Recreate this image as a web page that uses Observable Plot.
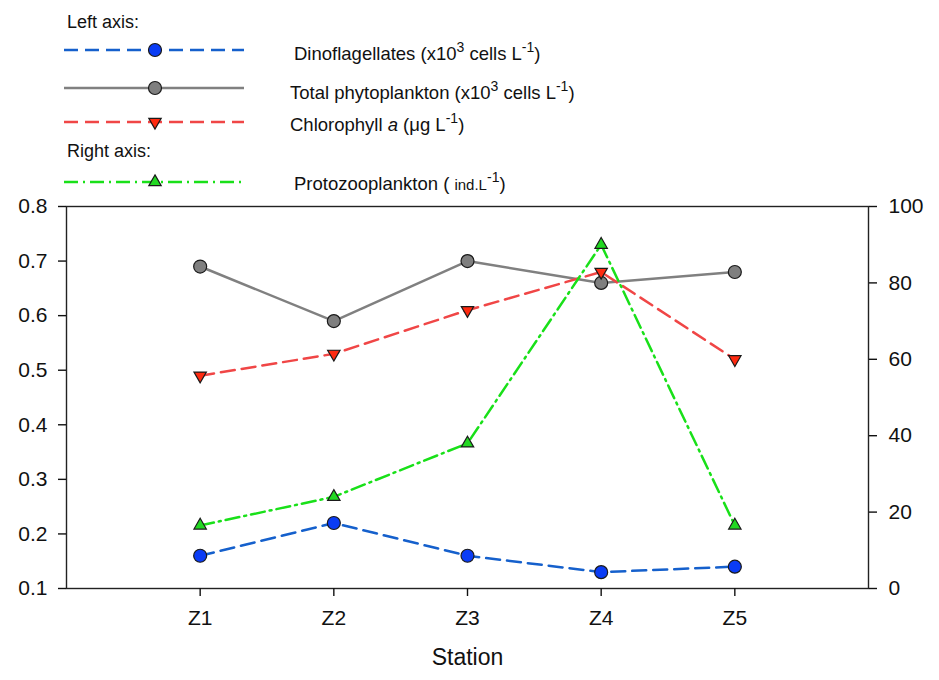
<!DOCTYPE html>
<html><head><meta charset="utf-8">
<script src="https://cdn.jsdelivr.net/npm/d3@7"></script>
<script src="https://cdn.jsdelivr.net/npm/@observablehq/plot@0.6"></script>
<style>
body{margin:0;background:#fff;font-family:"Liberation Sans",Arial,sans-serif;}
#wrap{position:relative;width:939px;height:680px;overflow:hidden;background:#fff;}
#legend{position:absolute;left:0;top:0;z-index:2;}
#chart{position:absolute;left:0;top:186px;z-index:1;}
</style></head><body>
<div id="wrap"><div id="chart"></div><svg id="legend" width="939" height="200"></svg></div>
<script>
// ---- data ----
const stations = ["Z1", "Z2", "Z3", "Z4", "Z5"];
const dinoflagellates = [0.16, 0.22, 0.16, 0.13, 0.14];      // left axis
const totalPhytoplankton = [0.69, 0.59, 0.70, 0.66, 0.68];   // left axis
const chlorophyll = [0.49, 0.53, 0.61, 0.68, 0.52];          // left axis
const protozooplankton = [16.5, 24, 38, 90, 16.5];           // right axis
const leftTicks = [0.1, 0.2, 0.3, 0.4, 0.5, 0.6, 0.7, 0.8];
const rightTicks = [0, 20, 40, 60, 80, 100];
const leftDomain = [0.1, 0.8];
const rightDomain = [0, 100];

// right-axis values mapped onto the left scale
const toLeft = v => leftDomain[0] + (v - rightDomain[0]) / (rightDomain[1] - rightDomain[0]) * (leftDomain[1] - leftDomain[0]);
const fromLeft = v => rightDomain[0] + (v - leftDomain[0]) / (leftDomain[1] - leftDomain[0]) * (rightDomain[1] - rightDomain[0]);

const rows = stations.map((s, i) => ({
  x: i + 1, station: s,
  dino: dinoflagellates[i], total: totalPhytoplankton[i], chl: chlorophyll[i],
  proto: toLeft(protozooplankton[i])
}));

const S = {
  dino: {line: "#1560cc", fill: "#0a3cf5", dash: "14,7"},
  total: {line: "#808080", fill: "#7f7f7f", dash: null},
  chl: {line: "#f04646", fill: "#ff2a10", dash: "14,7"},
  proto: {line: "#19e019", fill: "#22d822", dash: "14,5,2,5"}
};
const edge = "#1a1a1a";

const chart = Plot.plot({
  width: 939, height: 494,
  marginTop: 20, marginBottom: 92, marginLeft: 66, marginRight: 71,
  style: {fontFamily: "Liberation Sans, Arial, sans-serif", fontSize: "21px", color: "#111", background: "none"},
  x: {domain: [0, 6]},
  y: {domain: leftDomain},
  marks: [
    Plot.frame({stroke: "#222", strokeWidth: 1.4}),
    Plot.axisY({ticks: leftTicks, tickFormat: d => d.toFixed(1), tickSize: 8, tickPadding: 11, label: null, strokeWidth: 1.4}),
    Plot.axisY({anchor: "right", ticks: rightTicks.map(toLeft), tickFormat: d => String(Math.round(fromLeft(d))), tickSize: 8, tickPadding: 12, label: null, strokeWidth: 1.4}),
    Plot.axisX({ticks: [1, 2, 3, 4, 5], tickFormat: i => stations[i - 1], tickSize: 8, tickPadding: 14, label: null, strokeWidth: 1.4}),
    Plot.text(["Station"], {frameAnchor: "bottom", dy: 76, fontSize: 23, fill: "#111"}),
    Plot.line(rows, {x: "x", y: "total", stroke: S.total.line, strokeWidth: 2.5}),
    Plot.line(rows, {x: "x", y: "chl", stroke: S.chl.line, strokeWidth: 2.5, strokeDasharray: S.chl.dash}),
    Plot.line(rows, {x: "x", y: "proto", stroke: S.proto.line, strokeWidth: 2.5, strokeDasharray: S.proto.dash}),
    Plot.line(rows, {x: "x", y: "dino", stroke: S.dino.line, strokeWidth: 2.5, strokeDasharray: S.dino.dash}),
    Plot.dot(rows, {x: "x", y: "total", r: 6.5, fill: S.total.fill, stroke: edge, strokeWidth: 1.2}),
    Plot.dot(rows, {x: "x", y: "chl", r: 4.6, symbol: "triangle", rotate: 180, fill: S.chl.fill, stroke: edge, strokeWidth: 1.2}),
    Plot.dot(rows, {x: "x", y: "proto", r: 4.6, symbol: "triangle", fill: S.proto.fill, stroke: edge, strokeWidth: 1.2}),
    Plot.dot(rows, {x: "x", y: "dino", r: 6.5, fill: S.dino.fill, stroke: edge, strokeWidth: 1.2})
  ]
});
document.getElementById("chart").appendChild(chart);

// ---- legend ----
const lg = d3.select("#legend").style("font-family", "Liberation Sans, Arial, sans-serif");
const legendItems = [
  {key: "dino", y: 50, tx: 294, ty: 60, sym: "circle", parts: [["Dinoflagellates (x10"], ["3", "sup"], [" cells L"], ["-1", "sup"], [")"]]},
  {key: "total", y: 88, tx: 290, ty: 99, sym: "circle", parts: [["Total phytoplankton (x10"], ["3", "sup"], [" cells L"], ["-1", "sup"], [")"]]},
  {key: "chl", y: 122, tx: 290, ty: 131, sym: "down", parts: [["Chlorophyll "], ["a", "it"], [" (\u03bcg L"], ["-1", "sup"], [")"]]},
  {key: "proto", y: 182, tx: 294, ty: 190, sym: "up", parts: [["Protozooplankton ( "], ["ind.L", "small"], ["-1", "sup"], [")"]]}
];
lg.append("text").attr("x", 67).attr("y", 28).attr("font-size", 18).attr("fill", "#111").text("Left axis:");
lg.append("text").attr("x", 67).attr("y", 157).attr("font-size", 18).attr("fill", "#111").text("Right axis:");
for (const it of legendItems) {
  const st = S[it.key];
  lg.append("line").attr("x1", 64).attr("x2", 244).attr("y1", it.y).attr("y2", it.y)
    .attr("stroke", st.line).attr("stroke-width", 2.5).attr("stroke-dasharray", st.dash);
  if (it.sym === "circle") {
    lg.append("circle").attr("cx", 155).attr("cy", it.y).attr("r", 6.5).attr("fill", st.fill).attr("stroke", edge).attr("stroke-width", 1.2);
  } else {
    lg.append("path").attr("d", d3.symbol(d3.symbolTriangle, Math.PI * 4.6 * 4.6)())
      .attr("transform", `translate(155,${it.y}) rotate(${it.sym === "down" ? 180 : 0})`)
      .attr("fill", st.fill).attr("stroke", edge).attr("stroke-width", 1.2);
  }
  const t = lg.append("text").attr("x", it.tx).attr("y", it.ty).attr("font-size", 18.5).attr("fill", "#111");
  let prevSup = false;
  for (const [txt, kind] of it.parts) {
    const sp = t.append("tspan").text(txt);
    if (kind === "sup") { sp.attr("font-size", 14).attr("dy", prevSup ? 0 : -8); prevSup = true; continue; }
    if (prevSup) sp.attr("dy", 8);
    prevSup = false;
    if (kind === "it") sp.attr("font-style", "italic");
    else if (kind === "small") sp.attr("font-size", 15);
  }
}
</script>
</body></html>
